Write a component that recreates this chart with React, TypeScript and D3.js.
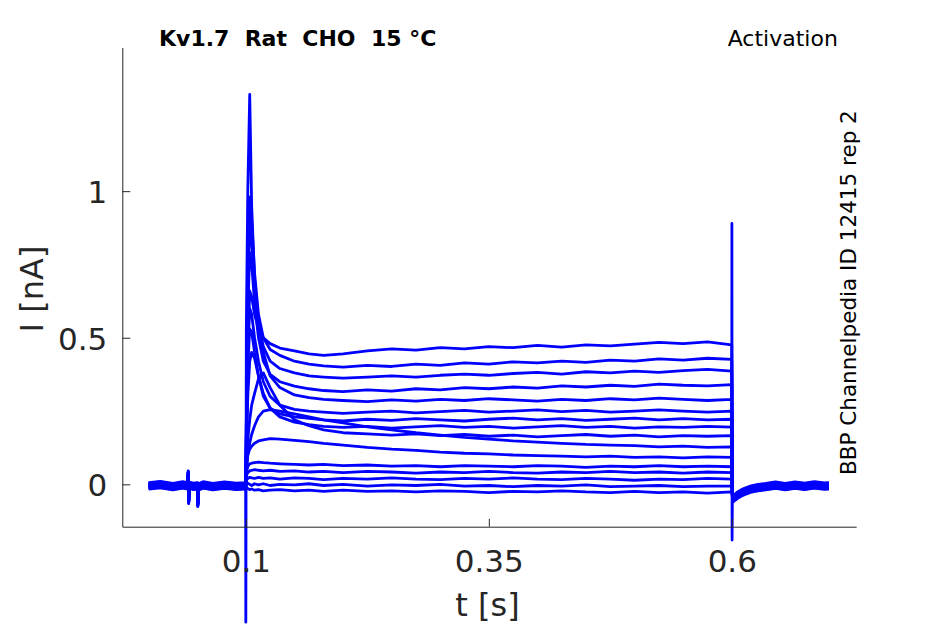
import React, { useRef, useEffect } from 'react';
import * as d3 from 'd3';

// sample times (s) for the holding segment before the step
const preT = [0, 0.012, 0.025, 0.035, 0.0403, 0.0407, 0.0412, 0.0418, 0.046, 0.0502, 0.0506, 0.0512, 0.056, 0.066, 0.078, 0.09, 0.0998];
const preI = [0, 0.004, -0.003, 0.003, 0.0, 0.04, -0.05, 0.002, -0.002, 0.0, -0.06, -0.004, 0.003, -0.003, 0.002, -0.002, 0];

// sample times (s) during the voltage step
const stepT = [0.1, 0.1005, 0.102, 0.104, 0.106, 0.109, 0.113, 0.118, 0.125, 0.135, 0.15, 0.165, 0.18, 0.2,
  0.225, 0.25, 0.275, 0.3, 0.325, 0.35, 0.375, 0.4, 0.425, 0.45, 0.475, 0.5, 0.525, 0.55, 0.575, 0.6];

// current (nA) of each sweep during the step
const stepI = [
  [0, 0.15, 0.45, 0.66, 0.64, 0.58, 0.53, 0.50, 0.48, 0.465, 0.455, 0.445, 0.44, 0.445, 0.455, 0.462, 0.458, 0.466, 0.462, 0.47, 0.466, 0.474, 0.468, 0.476, 0.472, 0.478, 0.484, 0.48, 0.486, 0.476],
  [0, 0.2, 0.7, 0.98, 0.9, 0.72, 0.58, 0.5, 0.46, 0.44, 0.42, 0.41, 0.404, 0.4, 0.406, 0.402, 0.41, 0.406, 0.414, 0.41, 0.418, 0.414, 0.42, 0.416, 0.424, 0.42, 0.428, 0.424, 0.43, 0.426],
  [0, 0.2, 0.65, 0.88, 0.83, 0.68, 0.55, 0.47, 0.42, 0.395, 0.38, 0.37, 0.366, 0.362, 0.366, 0.37, 0.366, 0.372, 0.376, 0.372, 0.378, 0.382, 0.376, 0.384, 0.38, 0.386, 0.382, 0.388, 0.392, 0.386],
  [0, 0.18, 0.6, 0.79, 0.75, 0.62, 0.5, 0.42, 0.375, 0.35, 0.335, 0.326, 0.32, 0.316, 0.322, 0.318, 0.326, 0.322, 0.33, 0.326, 0.332, 0.328, 0.336, 0.332, 0.338, 0.334, 0.342, 0.338, 0.336, 0.34],
  [-0.47, 0.53, 1.0, 1.33, 0.95, 0.7, 0.55, 0.45, 0.37, 0.33, 0.305, 0.296, 0.29, 0.286, 0.282, 0.288, 0.284, 0.29, 0.286, 0.292, 0.288, 0.284, 0.29, 0.286, 0.292, 0.288, 0.294, 0.29, 0.286, 0.29],
  [0, 0.15, 0.45, 0.6, 0.58, 0.5, 0.42, 0.35, 0.3, 0.27, 0.256, 0.25, 0.246, 0.242, 0.246, 0.25, 0.244, 0.248, 0.252, 0.246, 0.25, 0.254, 0.248, 0.252, 0.246, 0.25, 0.254, 0.25, 0.246, 0.25],
  [0, 0.12, 0.4, 0.53, 0.52, 0.45, 0.37, 0.3, 0.26, 0.24, 0.23, 0.225, 0.22, 0.216, 0.222, 0.218, 0.224, 0.22, 0.216, 0.222, 0.226, 0.22, 0.224, 0.218, 0.222, 0.226, 0.22, 0.224, 0.22, 0.222],
  [0, 0.1, 0.3, 0.42, 0.45, 0.43, 0.37, 0.31, 0.26, 0.23, 0.212, 0.204, 0.198, 0.194, 0.198, 0.192, 0.196, 0.2, 0.194, 0.198, 0.192, 0.196, 0.2, 0.194, 0.198, 0.192, 0.196, 0.194, 0.198, 0.195],
  [0, 0.05, 0.15, 0.22, 0.27, 0.31, 0.36, 0.38, 0.33, 0.27, 0.22, 0.2, 0.186, 0.176, 0.172, 0.168, 0.172, 0.166, 0.17, 0.164, 0.168, 0.162, 0.166, 0.17, 0.164, 0.168, 0.162, 0.166, 0.164, 0.166],
  [0, 0.04, 0.1, 0.14, 0.17, 0.2, 0.23, 0.25, 0.255, 0.25, 0.24, 0.23, 0.22, 0.21, 0.196, 0.186, 0.176, 0.168, 0.16, 0.154, 0.148, 0.144, 0.14, 0.136, 0.134, 0.132, 0.128, 0.13, 0.126, 0.128],
  [0, 0.06, 0.1, 0.12, 0.13, 0.14, 0.148, 0.152, 0.156, 0.154, 0.15, 0.146, 0.14, 0.134, 0.126, 0.12, 0.116, 0.11, 0.106, 0.104, 0.1, 0.098, 0.096, 0.094, 0.096, 0.092, 0.094, 0.09, 0.094, 0.092],
  [0, 0.04, 0.06, 0.07, 0.072, 0.074, 0.076, 0.074, 0.072, 0.07, 0.068, 0.066, 0.068, 0.064, 0.066, 0.062, 0.064, 0.06, 0.064, 0.062, 0.06, 0.064, 0.062, 0.058, 0.062, 0.06, 0.064, 0.06, 0.062, 0.06],
  [0, 0.03, 0.04, 0.046, 0.048, 0.05, 0.048, 0.046, 0.048, 0.044, 0.046, 0.042, 0.044, 0.04, 0.044, 0.042, 0.038, 0.042, 0.04, 0.044, 0.04, 0.038, 0.042, 0.04, 0.044, 0.04, 0.042, 0.038, 0.042, 0.04],
  [0, 0.015, 0.02, 0.024, 0.022, 0.02, 0.024, 0.02, 0.022, 0.018, 0.022, 0.02, 0.016, 0.02, 0.018, 0.022, 0.018, 0.016, 0.02, 0.018, 0.022, 0.018, 0.016, 0.02, 0.018, 0.014, 0.018, 0.016, 0.02, 0.018],
  [0, 0.0, 0.004, 0.0, -0.004, 0.002, -0.002, 0.002, -0.004, 0.0, -0.002, 0.002, -0.004, 0.0, -0.006, -0.002, -0.004, 0.0, -0.006, -0.004, -0.008, -0.004, -0.006, -0.002, -0.008, -0.006, -0.004, -0.008, -0.006, -0.006],
  [0, -0.01, -0.014, -0.018, -0.016, -0.02, -0.018, -0.022, -0.02, -0.018, -0.022, -0.02, -0.024, -0.02, -0.024, -0.022, -0.026, -0.022, -0.024, -0.028, -0.024, -0.026, -0.022, -0.026, -0.028, -0.024, -0.028, -0.026, -0.03, -0.026],
];

// holding current offset of each sweep (nA)
const holding = [-0.012, 0.004, -0.006, 0.002, -0.01, -0.002, -0.014, 0.0, -0.008, 0.006, -0.004, -0.016, -0.009, 0.001, -0.005, -0.011];

// capacitive transient at the end of the step, on the sweep that has it
const spikeSweep = 4;
const spikeOffT = [0.6001, 0.6003];
const spikeOffI = [0.89, -0.19];

// tail after the step
const postT = [0.6006, 0.601, 0.603, 0.606, 0.61, 0.615, 0.62, 0.627, 0.635, 0.645, 0.655, 0.665, 0.675, 0.685, 0.695, 0.7];
const postI = [-0.03, -0.045, -0.04, -0.032, -0.024, -0.017, -0.011, -0.006, -0.003, 0.002, -0.003, 0.002, -0.002, 0.003, -0.001, 0.0];

const xTicks = [0.1, 0.35, 0.6];
const yTicks = [0, 0.5, 1];

const App: React.FC = () => {
  const svgRef = useRef<SVGSVGElement>(null);

  useEffect(() => {
    if (!svgRef.current) return;
    const svg = d3.select(svgRef.current);
    svg.selectAll('*').remove();

    const axisColor = '#262626';
    const font = 'DejaVu Sans, sans-serif';

    const x = d3.scaleLinear().domain([-0.0271, 0.728]).range([122.3, 856.2]);
    const y = d3.scaleLinear().domain([-0.1445, 1.49]).range([526.7, 47.5]);

    const line = d3.line<[number, number]>()
      .x(d => x(d[0]))
      .y(d => y(d[1]));

    // Sweeps
    const sweeps = svg.append('g');
    stepI.forEach((vals, k) => {
      const pts: [number, number][] = [];
      preT.forEach((t, i) => pts.push([t, preI[i] + holding[k]]));
      stepT.forEach((t, i) => pts.push([t, vals[i]]));
      if (k === spikeSweep) spikeOffT.forEach((t, i) => pts.push([t, spikeOffI[i]]));
      postT.forEach((t, i) => pts.push([t, postI[i] + holding[k]]));
      sweeps.append('path')
        .attr('d', line(pts))
        .attr('fill', 'none')
        .attr('stroke', '#0000ff')
        .attr('stroke-width', 2.8)
        .attr('stroke-linejoin', 'round');
    });

    // X axis
    const gx = svg.append('g')
      .attr('transform', `translate(0, ${y.range()[0]})`)
      .call(d3.axisBottom(x).tickValues(xTicks).tickFormat(d => String(d)).tickSizeInner(-8).tickSizeOuter(0).tickPadding(23));
    gx.select('.domain').attr('stroke', axisColor);
    gx.selectAll('.tick line').attr('stroke', axisColor);
    gx.selectAll('.tick text')
      .attr('fill', axisColor)
      .style('font-family', font)
      .style('font-size', '31px');

    // Y axis
    const gy = svg.append('g')
      .attr('transform', `translate(${x.range()[0]}, 0)`)
      .call(d3.axisLeft(y).tickValues(yTicks).tickFormat(d => String(d)).tickSizeInner(-8).tickSizeOuter(0).tickPadding(15));
    gy.select('.domain').attr('stroke', axisColor);
    gy.selectAll('.tick line').attr('stroke', axisColor);
    gy.selectAll('.tick text')
      .attr('fill', axisColor)
      .attr('dy', '0.37em')
      .style('font-family', font)
      .style('font-size', '31px');

    // Axis labels
    svg.append('text')
      .attr('x', 487.5)
      .attr('y', 616)
      .attr('text-anchor', 'middle')
      .attr('fill', axisColor)
      .style('font-family', font)
      .style('font-size', '32px')
      .text('t [s]');

    svg.append('text')
      .attr('transform', 'translate(43, 289) rotate(-90)')
      .attr('text-anchor', 'middle')
      .attr('fill', axisColor)
      .style('font-family', font)
      .style('font-size', '32px')
      .text('I [nA]');

    // Titles
    svg.append('text')
      .attr('x', 159)
      .attr('y', 46)
      .attr('fill', '#000')
      .style('font-family', font)
      .style('font-size', '22px')
      .style('font-weight', 'bold')
      .style('white-space', 'pre')
      .text('Kv1.7  Rat  CHO  15 °C');

    svg.append('text')
      .attr('x', 727.7)
      .attr('y', 46)
      .attr('fill', '#000')
      .style('font-family', font)
      .style('font-size', '22px')
      .text('Activation');

    svg.append('text')
      .attr('transform', 'translate(856, 475) rotate(-90)')
      .attr('fill', '#000')
      .style('font-family', font)
      .style('font-size', '21.5px')
      .text('BBP Channelpedia ID 12415 rep 2');
  }, []);

  return (
    <svg ref={svgRef} width={945} height={624}
      style={{ position: 'absolute', left: 0, top: 0, background: '#fff' }} />
  );
};

export default App;
